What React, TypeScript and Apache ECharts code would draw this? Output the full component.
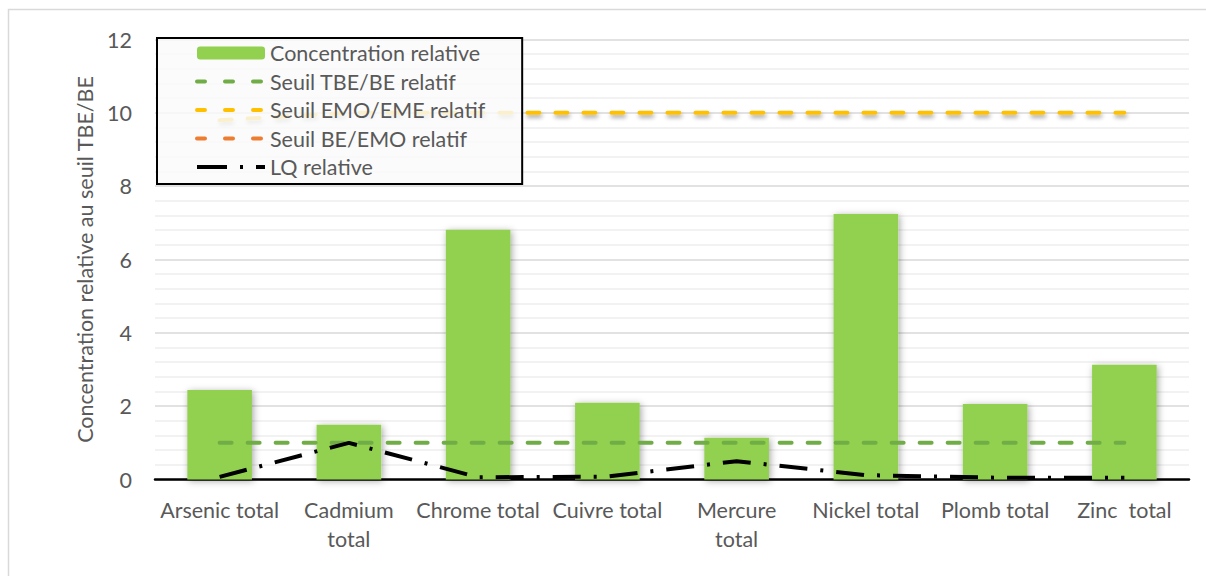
import React, { useEffect, useRef } from "react";
import * as echarts from "echarts";

const categories = [
  "Arsenic total",
  "Cadmium\ntotal",
  "Chrome total",
  "Cuivre total",
  "Mercure\ntotal",
  "Nickel total",
  "Plomb total",
  "Zinc  total",
];
const concentrationRelative = [2.44, 1.49, 6.81, 2.09, 1.14, 7.24, 2.06, 3.13];
const seuilTbeBe = [1, 1, 1, 1, 1, 1, 1, 1];
const seuilEmoEme = [9.8, 10, 10, 10, 10, 10, 10, 10];
const seuilBeEmo: (number | null)[] = [];
const lqRelative = [0.07, 1.0, 0.06, 0.08, 0.5, 0.12, 0.05, 0.05];
const yTicks = { min: 0, max: 12, interval: 2 };

const FONT = "Lato";
const TEXT = "#595959";

export default function App() {
  const ref = useRef<HTMLDivElement>(null);
  useEffect(() => {
    const chart = echarts.init(ref.current!, null, { renderer: "svg" });
    const lineShadow = {
      shadowColor: "rgba(0,0,0,0.35)",
      shadowBlur: 4,
      shadowOffsetX: 1,
      shadowOffsetY: 3,
    };
    const dashLegend = (name: string) => ({
      name,
      itemStyle: { opacity: 0 },
      lineStyle: { width: 4, type: [8, 20], cap: "round" },
    });
    chart.setOption({
      animation: false,
      backgroundColor: "#ffffff",
      textStyle: { fontFamily: FONT },
      graphic: [
        {
          type: "rect",
          z: -10,
          shape: { x: 8.5, y: 9.5, width: 1300, height: 700 },
          style: { fill: "none", stroke: "#d9d9d9", lineWidth: 1.5 },
        },
      ],
      grid: { left: 155, right: 17, top: 39.5, bottom: 96.5, containLabel: false },
      legend: {
        orient: "vertical",
        left: 157,
        top: 38,
        padding: [4, 37, 6, 38],
        itemGap: 6.5,
        itemWidth: 68,
        itemHeight: 13,
        backgroundColor: "rgba(250,250,250,0.82)",
        borderColor: "#000000",
        borderWidth: 2,
        textStyle: { fontFamily: FONT, fontSize: 21.5, color: TEXT, lineHeight: 22 },
        data: [
          "Concentration relative",
          dashLegend("Seuil TBE/BE relatif"),
          dashLegend("Seuil EMO/EME relatif"),
          dashLegend("Seuil BE/EMO relatif"),
          {
            name: "LQ relative",
            itemStyle: { opacity: 0 },
            lineStyle: { width: 4, type: [30, 13, 3, 13], cap: "butt" },
          },
        ],
      },
      xAxis: {
        type: "category",
        data: categories,
        axisLine: { show: true, lineStyle: { color: "#000000", width: 2.5 } },
        axisTick: { show: false },
        axisLabel: {
          interval: 0,
          margin: 16,
          fontFamily: FONT,
          fontSize: 21.5,
          lineHeight: 29,
          color: TEXT,
        },
        splitLine: { show: false },
      },
      yAxis: {
        type: "value",
        min: yTicks.min,
        max: yTicks.max,
        interval: yTicks.interval,
        name: "Concentration relative au seuil TBE/BE",
        nameLocation: "middle",
        nameRotate: 90,
        nameGap: 56,
        nameTextStyle: { fontFamily: FONT, fontSize: 21.5, color: TEXT },
        axisLine: { show: false },
        axisTick: { show: false },
        axisLabel: { margin: 23, fontFamily: FONT, fontSize: 21.5, color: TEXT },
        splitLine: { show: true, lineStyle: { color: "#d9d9d9", width: 1.5 } },
        minorTick: { show: false, splitNumber: 5 },
        minorSplitLine: { show: true, lineStyle: { color: "#eeeeee", width: 1.5 } },
      },
      series: [
        {
          name: "Concentration relative",
          type: "bar",
          data: concentrationRelative,
          barWidth: "50%",
          itemStyle: {
            color: "#92d050",
            shadowColor: "rgba(0,0,0,0.35)",
            shadowBlur: 7,
            shadowOffsetX: 1.5,
            shadowOffsetY: 1.5,
          },
          z: 2,
        },
        {
          name: "Seuil TBE/BE relatif",
          type: "line",
          data: seuilTbeBe,
          symbol: "none",
          itemStyle: { color: "#70ad47" },
          lineStyle: { color: "#70ad47", width: 4, type: [12, 16], cap: "round" },
          z: 3,
        },
        {
          name: "Seuil EMO/EME relatif",
          type: "line",
          data: seuilEmoEme,
          symbol: "none",
          itemStyle: { color: "#ffc000" },
          lineStyle: { color: "#ffc000", width: 4, type: [12, 16], cap: "round", ...lineShadow },
          z: 3,
        },
        {
          name: "Seuil BE/EMO relatif",
          type: "line",
          data: seuilBeEmo,
          symbol: "none",
          itemStyle: { color: "#ed7d31" },
          lineStyle: { color: "#ed7d31", width: 4, type: [12, 16], cap: "round" },
          z: 3,
        },
        {
          name: "LQ relative",
          type: "line",
          data: lqRelative,
          symbol: "none",
          itemStyle: { color: "#000000" },
          lineStyle: { color: "#000000", width: 4, type: [28, 13, 3, 13], cap: "butt" },
          z: 3,
        },
      ],
    });
    return () => chart.dispose();
  }, []);
  return (
    <div
      ref={ref}
      style={{ position: "absolute", left: 0, top: 0, width: 1206, height: 576 }}
    />
  );
}
